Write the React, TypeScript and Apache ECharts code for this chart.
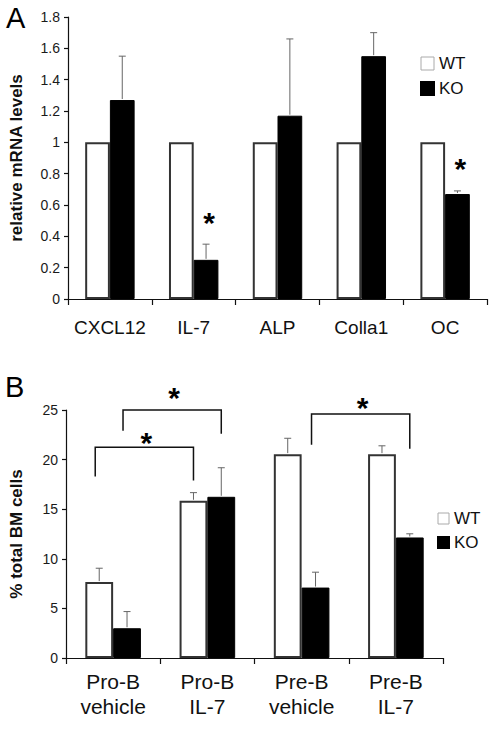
import React, { useEffect, useRef } from "react";
import * as echarts from "echarts";

// ---------- Panel A data ----------
const genesA = ["CXCL12", "IL-7", "ALP", "Colla1", "OC"];
const wtA = [1, 1, 1, 1, 1];
const koA = [1.27, 0.25, 1.17, 1.55, 0.67];
const koErrA = [0.28, 0.1, 0.49, 0.15, 0.02];
const sigA = ["", "*", "", "", "*"];
const ticksA = { min: 0, max: 1.8, interval: 0.2 };

// ---------- Panel B data ----------
const groupsB = ["Pro-B\nvehicle", "Pro-B\nIL-7", "Pre-B\nvehicle", "Pre-B\nIL-7"];
const wtB = [7.65, 15.85, 20.55, 20.55];
const wtErrB = [1.4, 0.82, 1.6, 0.84];
const koB = [3.0, 16.25, 7.1, 12.15];
const koErrB = [1.68, 2.93, 1.55, 0.37];
const ticksB = { min: 0, max: 25, interval: 5 };
// [fromGroup, fromSeries(0=WT,1=KO), toGroup, toSeries, barLevel, leftLegEnd, rightLegEnd, starLevel]
const bracketsB = [
  [0, 1, 1, 1, 25.0, 22.9, 22.6, 27.0],
  [0, 0, 1, 0, 21.25, 18.3, 17.9, 22.4],
  [2, 1, 3, 1, 24.6, 21.5, 21.1, 26.0],
];

const FONT = '"Liberation Sans", Arial, Helvetica, sans-serif';
const CAT_GAP = 0.41;

function errData(values: number[], errs: number[], side: number) {
  const out: number[][] = [];
  values.forEach((v, i) => {
    if (errs[i] > 0) out.push([i, v, errs[i], side]);
  });
  return out;
}

function makeErrRender(sig: string[] | null) {
  return (params: any, api: any) => {
    const cat = api.value(0);
    const val = api.value(1);
    const err = api.value(2);
    const side = api.value(3);
    const band = api.size([1, 0])[0];
    const bw = (band * (1 - CAT_GAP)) / 2;
    const base = api.coord([cat, val]);
    const top = api.coord([cat, val + err]);
    const x = base[0] + (side === 0 ? -bw / 2 : bw / 2);
    const st = { stroke: "#666", lineWidth: 1 };
    const children: any[] = [
      { type: "line", shape: { x1: x, y1: base[1] - 1, x2: x, y2: top[1] }, style: st },
      { type: "line", shape: { x1: x - 3.5, y1: top[1], x2: x + 3.5, y2: top[1] }, style: st },
    ];
    if (sig) {
      const s = sig[cat];
      if (s) {
        children.push({
          type: "text",
          style: {
            text: s,
            x: x + 3,
            y: top[1] - 22,
            align: "center",
            verticalAlign: "middle",
            fontSize: 30,
            fontWeight: "bold",
            fontFamily: FONT,
            fill: "#000",
          },
        });
      }
    }
    return { type: "group", children };
  };
}

function bracketRender(params: any, api: any) {
  const band = api.size([1, 0])[0];
  const bw = (band * (1 - CAT_GAP)) / 2;
  const xOf = (g: number, s: number) => api.coord([g, 0])[0] + (s === 0 ? -bw / 2 : bw / 2);
  const xL = xOf(api.value(0), api.value(1)) - 4;
  const xR = xOf(api.value(2), api.value(3));
  const yTop = api.coord([0, api.value(4)])[1];
  const yL = api.coord([0, api.value(5)])[1];
  const yR = api.coord([0, api.value(6)])[1];
  const yStar = api.coord([0, api.value(7)])[1];
  return {
    type: "group",
    children: [
      {
        type: "polyline",
        shape: { points: [[xL, yL], [xL, yTop], [xR, yTop], [xR, yR]] },
        style: { stroke: "#111", lineWidth: 1.5, fill: "none" },
      },
      {
        type: "text",
        style: {
          text: "*",
          x: (xL + xR) / 2 + 2,
          y: yStar + 7,
          align: "center",
          verticalAlign: "middle",
          fontSize: 30,
          fontWeight: "bold",
          fontFamily: FONT,
          fill: "#000",
        },
      },
    ],
  };
}

const axisLineStyle = { color: "#111", width: 1.2 };

export default function App() {
  const ref = useRef<HTMLDivElement>(null);
  useEffect(() => {
    if (!ref.current) return;
    const chart = echarts.init(ref.current, undefined, { renderer: "svg" });
    const wtStyle = { color: "#fff", borderColor: "#333", borderWidth: 2 };
    const koStyle = { color: "#000", borderColor: "#000", borderWidth: 1 };
    const legendCommon = {
      orient: "vertical",
      icon: "rect",
      selectedMode: false,
      padding: 0,
      textStyle: { fontSize: 17, color: "#111", fontFamily: FONT },
      data: [
        { name: "WT", itemStyle: { color: "#fff", borderColor: "#aaa", borderWidth: 1 } },
        { name: "KO", itemStyle: { color: "#000" } },
      ],
    };
    chart.setOption({
      animation: false,
      backgroundColor: "#fff",
      textStyle: { fontFamily: FONT },
      graphic: [
        { type: "text", left: 6, top: 3, style: { text: "A", fontSize: 29, fontFamily: FONT, fill: "#000" } },
        { type: "text", left: 5, top: 372, style: { text: "B", fontSize: 29, fontFamily: FONT, fill: "#000" } },
      ],
      legend: [
        { ...legendCommon, left: 420, top: 55, itemWidth: 13, itemHeight: 13, itemGap: 8 },
        { ...legendCommon, left: 437, top: 510, itemWidth: 11, itemHeight: 11, itemGap: 7 },
      ],
      grid: [
        { left: 61, top: 17, width: 426, height: 282 },
        { left: 61, top: 410, width: 382, height: 248 },
      ],
      xAxis: [
        {
          type: "category",
          gridIndex: 0,
          data: genesA,
          axisLine: { lineStyle: axisLineStyle },
          axisTick: { show: true, length: 6, interval: 0, lineStyle: axisLineStyle },
          axisLabel: { fontSize: 19, interval: 0, color: "#111", margin: 19, fontFamily: FONT },
        },
        {
          type: "category",
          gridIndex: 1,
          data: groupsB,
          axisLine: { lineStyle: axisLineStyle },
          axisTick: { show: true, length: 6, interval: 0, lineStyle: axisLineStyle },
          axisLabel: { fontSize: 21, interval: 0, lineHeight: 25, color: "#111", margin: 11, fontFamily: FONT },
        },
      ],
      yAxis: [
        {
          type: "value",
          gridIndex: 0,
          ...ticksA,
          name: "relative mRNA levels",
          nameLocation: "middle",
          nameRotate: 90,
          nameGap: 43,
          nameTextStyle: { fontSize: 17, fontWeight: "bold", color: "#111", fontFamily: FONT },
          splitLine: { show: false },
          axisLine: { show: true, lineStyle: axisLineStyle },
          axisTick: { show: true, length: 4, lineStyle: axisLineStyle },
          axisLabel: { fontSize: 14, color: "#1a1a1a", margin: 8, fontFamily: FONT },
        },
        {
          type: "value",
          gridIndex: 1,
          ...ticksB,
          name: "% total BM cells",
          nameLocation: "middle",
          nameRotate: 90,
          nameGap: 41,
          nameTextStyle: { fontSize: 17, fontWeight: "bold", color: "#111", fontFamily: FONT },
          splitLine: { show: false },
          axisLine: { show: true, lineStyle: axisLineStyle },
          axisTick: { show: true, length: 4, lineStyle: axisLineStyle },
          axisLabel: { fontSize: 14, color: "#1a1a1a", margin: 8, fontFamily: FONT },
        },
      ],
      series: [
        {
          name: "WT", type: "bar", xAxisIndex: 0, yAxisIndex: 0, data: wtA,
          barGap: "0%", barCategoryGap: CAT_GAP * 100 + "%", itemStyle: wtStyle,
        },
        {
          name: "KO", type: "bar", xAxisIndex: 0, yAxisIndex: 0, data: koA,
          barGap: "0%", barCategoryGap: CAT_GAP * 100 + "%", itemStyle: koStyle,
        },
        {
          name: "WT", type: "bar", xAxisIndex: 1, yAxisIndex: 1, data: wtB,
          barGap: "0%", barCategoryGap: CAT_GAP * 100 + "%", itemStyle: wtStyle,
        },
        {
          name: "KO", type: "bar", xAxisIndex: 1, yAxisIndex: 1, data: koB,
          barGap: "0%", barCategoryGap: CAT_GAP * 100 + "%", itemStyle: koStyle,
        },
        {
          name: "errA", type: "custom", xAxisIndex: 0, yAxisIndex: 0, clip: false, z: 5,
          encode: { x: 0, y: 1 },
          renderItem: makeErrRender(sigA),
          data: errData(koA, koErrA, 1),
        },
        {
          name: "errB", type: "custom", xAxisIndex: 1, yAxisIndex: 1, clip: false, z: 5,
          encode: { x: 0, y: 1 },
          renderItem: makeErrRender(null),
          data: [...errData(wtB, wtErrB, 0), ...errData(koB, koErrB, 1)],
        },
        {
          name: "brackets", type: "custom", xAxisIndex: 1, yAxisIndex: 1, clip: false, z: 6,
          encode: { x: 0, y: 4 },
          renderItem: bracketRender,
          data: bracketsB,
        },
      ],
    });
    return () => chart.dispose();
  }, []);
  return (
    <div
      ref={ref}
      style={{ position: "fixed", left: 0, top: 0, width: 500, height: 732, background: "#fff" }}
    />
  );
}
